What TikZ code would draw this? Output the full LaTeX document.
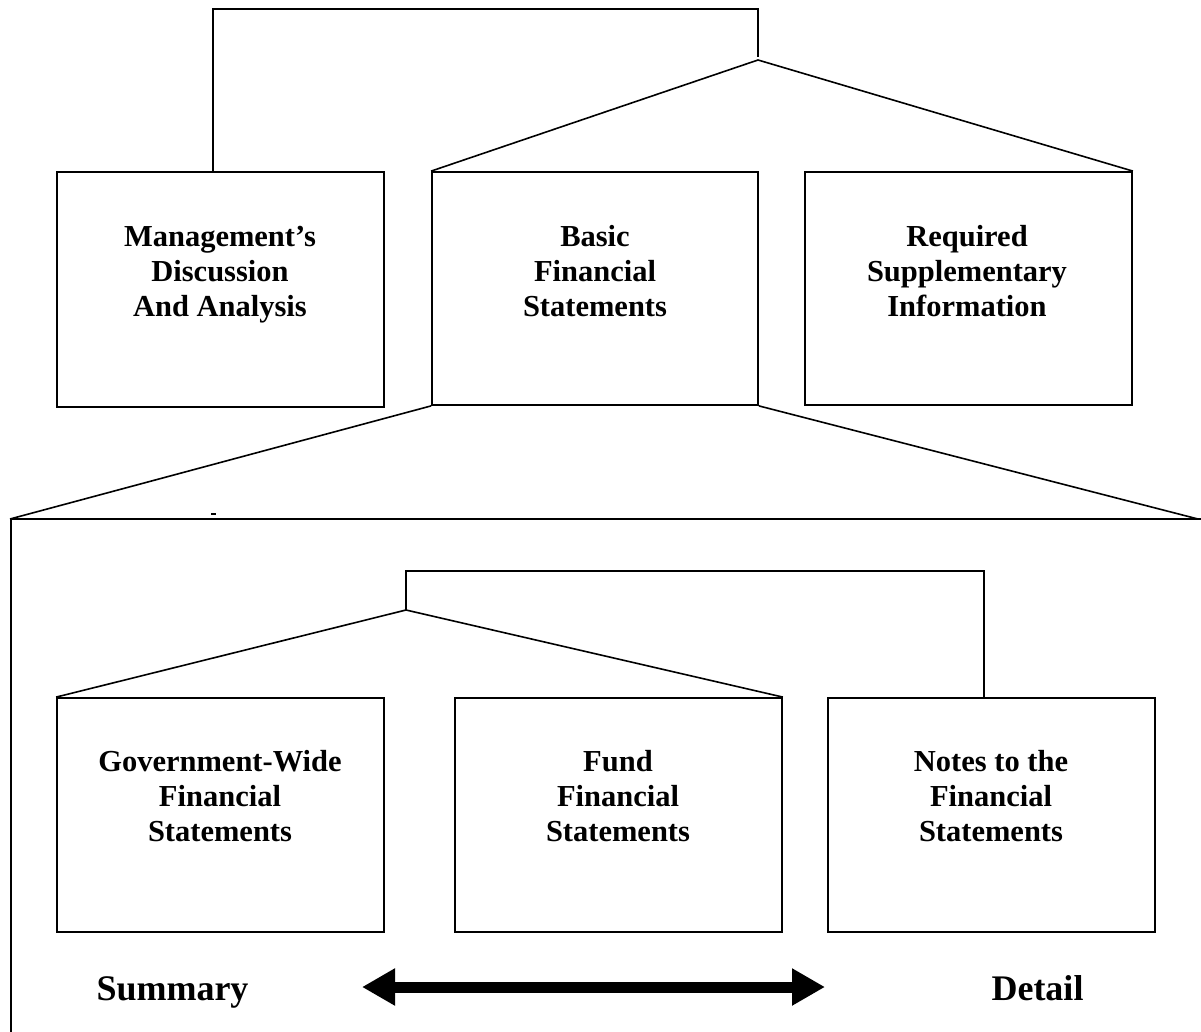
\documentclass[tikz,border=0pt]{standalone}
\usepackage{fontspec}
\setmainfont{Liberation Serif}
\usetikzlibrary{arrows.meta,calc}
\tikzset{
  boxnode/.style={draw, line width=1.8pt, rectangle, minimum width=327pt, minimum height=234pt, inner sep=0pt},
  boxtext/.style={anchor=north, align=center, inner sep=0pt, font=\fontsize{30.5}{35}\selectfont\bfseries},
  endtext/.style={anchor=base, inner sep=0pt, font=\fontsize{36}{40}\selectfont\bfseries},
  conn/.style={line width=1.6pt},
  bigarrow/.style={line width=11pt, {Triangle[length=33pt,width=35pt]}-{Triangle[length=33pt,width=35pt]}}
}
\newcommand{\fs}{\rule{0pt}{22pt}}
\begin{document}
\begin{tikzpicture}[x=1pt,y=-1pt]
\useasboundingbox (0,0) rectangle (1201,1032);
% top row boxes
\node[boxnode, minimum height=235pt] (mda) at (220.5,289.5) {};
\node[boxnode, minimum height=233pt, minimum width=326pt] (bfs) at (595,288.5) {};
\node[boxnode, minimum height=233pt] (rsi) at (968.5,288.5) {};
\node[boxtext] (mdaT) at (220,224) {\fs Management’s\\Discussion\\And Analysis};
\node[boxtext] (bfsT) at (595,224) {\fs Basic\\Financial\\Statements};
\node[boxtext] (rsiT) at (967,224) {\fs Required\\Supplementary\\Information};
% bottom row boxes
\node[boxnode] (gw) at (220.5,815) {};
\node[boxnode] (fund) at (618.5,815) {};
\node[boxnode] (notes) at (991.5,815) {};
\node[boxtext] (gwT) at (220,749) {\fs Government-Wide\\Financial\\Statements};
\node[boxtext] (fundT) at (618,749) {\fs Fund\\Financial\\Statements};
\node[boxtext] (notesT) at (991,749) {\fs Notes to the\\Financial\\Statements};
% top bracket
\coordinate (M1) at ($(mda.north)+(-7.5,0)$);
\coordinate (J1) at (758,60);
\coordinate (J1v) at (758,57);
\draw[conn] (M1) -- (213,9) -- (758,9) -- (J1v);
\draw[conn] (bfs.north west) -- (J1) -- (rsi.north east);
% expansion of basic financial statements
\coordinate (FL) at (10,519);
\coordinate (FR) at (1198,519);
\coordinate (FRe) at (1201,519);
\coordinate (FB) at (11,1032);
\draw[conn] (bfs.south west) -- (FL);
\draw[conn] (bfs.south east) -- (FR);
\draw[conn] (FL) -- (FRe);
\draw[conn] (11,519) -- (FB);
\draw[line width=1.5pt] (211,514) -- (216,514);
% inner bracket
\coordinate (J2) at (406,610);
\coordinate (N6) at ($(notes.north)+(-7.5,0)$);
\draw[conn] (J2) -- (406,571) -- (984,571) -- (N6);
\draw[conn] (gw.north west) -- (J2) -- (fund.north east);
% summary / detail
\node[endtext] (sum) at (172.5,1000) {Summary};
\node[endtext] (det) at (1037.5,1000) {Detail};
\coordinate (AL) at (362,987);
\coordinate (AR) at (825,987);
\draw[bigarrow] (AL) -- (AR);
\end{tikzpicture}
\end{document}
